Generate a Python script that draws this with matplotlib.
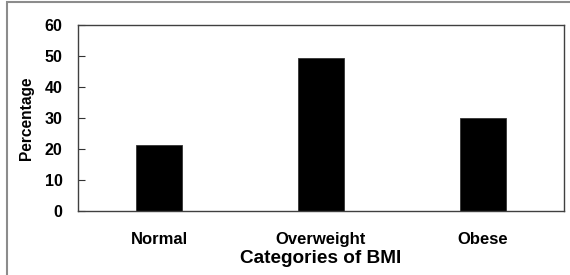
import matplotlib
matplotlib.use("Agg")
import matplotlib.pyplot as plt
from matplotlib.patches import Rectangle

plt.rcParams['font.family'] = ['Liberation Sans', 'DejaVu Sans']
plt.rcParams['font.weight'] = 'bold'

# data
categories = ['Normal', 'Overweight', 'Obese']
percentages = [21.2, 49.2, 29.9]
yticks = [0, 10, 20, 30, 40, 50, 60]

fig = plt.figure(figsize=(5.7, 2.75), dpi=100)
ax = fig.add_axes([78/570, 1 - 211/275, (564 - 78)/570, (211 - 25)/275])

x = range(len(categories))
ax.bar(x, percentages, width=0.28, color='black', edgecolor='#333333', linewidth=0.6)

ax.set_xlim(-0.5, 2.5)
ax.set_ylim(0, 60)
ax.set_yticks(yticks)
ax.set_xticks(list(x))
ax.set_xticklabels(categories, fontsize=12, fontweight='bold')
ax.tick_params(axis='x', length=0, pad=15)
ax.tick_params(axis='y', direction='in', length=5, pad=11, labelsize=11.5, color='#333333')
for lab in ax.get_yticklabels():
    lab.set_fontweight('bold')

for s in ax.spines.values():
    s.set_color('#404040')
    s.set_linewidth(1)

ax.set_xlabel('Categories of BMI', fontsize=13.7, fontweight='bold', labelpad=2)
ax.set_ylabel('Percentage', fontsize=11.2, fontweight='bold', labelpad=8)

# grey frame around the whole chart (right and bottom cut off)
fig.patches.append(Rectangle((7/570, -0.1), 1.2, 1 - 2/275 + 0.1, transform=fig.transFigure,
                             fill=False, edgecolor='#8c8c8c', linewidth=1.5))

fig.savefig('out.png', dpi=100)
